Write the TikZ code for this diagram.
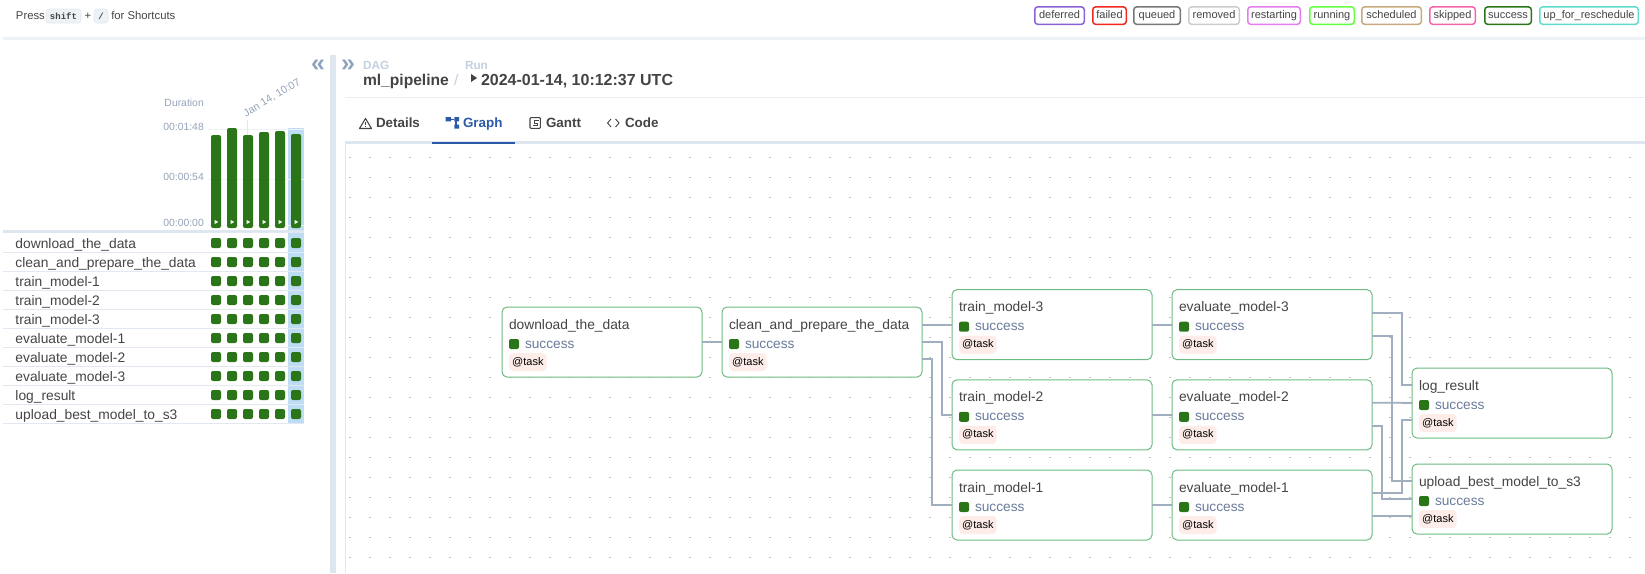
\documentclass[tikz,border=0pt]{standalone}
\usepackage{fontspec}
\setmainfont{Liberation Sans}
\newfontfamily\kbdfont{Liberation Mono}
\definecolor{okgreen}{HTML}{2B7519}
\definecolor{boxgreen}{HTML}{6CBB80}
\definecolor{edgegrey}{HTML}{A0AEC0}
\definecolor{softline}{HTML}{EDF2F7}
\definecolor{rowline}{HTML}{E2E8F0}
\definecolor{paneline}{HTML}{DEE6EF}
\definecolor{inktext}{HTML}{444444}
\definecolor{axistext}{HTML}{94A3B8}
\definecolor{crumbtext}{HTML}{C3D0DF}
\definecolor{chevron}{HTML}{8FA3BD}
\definecolor{statetext}{HTML}{6A7B9B}
\definecolor{chipfill}{HTML}{FDECE7}
\definecolor{hilite}{HTML}{BEDCF4}
\definecolor{tabblue}{HTML}{2B5AA8}
\definecolor{deferredc}{HTML}{8B62D6}
\definecolor{failedc}{HTML}{F0281E}
\definecolor{queuedc}{HTML}{777777}
\definecolor{removedc}{HTML}{CCCCCC}
\definecolor{restartc}{HTML}{E47EEE}
\definecolor{runningc}{HTML}{63FF3F}
\definecolor{schedc}{HTML}{C8A97E}
\definecolor{skippedc}{HTML}{F564A9}
\definecolor{resched}{HTML}{5FDCCB}

\tikzset{
  txt/.style={inner sep=0pt, outer sep=0pt, anchor=base west, text=inktext, font=\fontsize{13.8}{16}\selectfont},
  axis/.style={inner sep=0pt, anchor=base east, text=axistext, font=\fontsize{10.4}{12}\selectfont},
  tab/.style={txt, font=\fontsize{13.4}{16}\selectfont\bfseries},
  crumb/.style={txt, text=crumbtext, font=\fontsize{11.8}{14}\selectfont\bfseries},
  keycap/.style={draw=rowline, line width=0.6pt, fill=softline, rounded corners=3pt, minimum height=14pt, inner sep=0pt, text=inktext,
    font=\kbdfont\fontsize{9}{10}\selectfont\bfseries},
  statebadge/.style={line width=1.5pt, rounded corners=3pt, minimum height=17.5pt, inner sep=0pt, fill=white,
    text=inktext, text height=8pt, text depth=2.4pt, font=\fontsize{11}{13}\selectfont},
  taskbox/.style={draw=boxgreen, line width=1pt, fill=white, rounded corners=5pt, minimum width=200pt,
    minimum height=70pt, outer sep=0pt},
  okcell/.style={fill=okgreen, rounded corners=2pt, minimum size=10pt, inner sep=0pt, outer sep=0pt},
  taskchip/.style={fill=chipfill, rounded corners=4pt, anchor=west, inner xsep=3pt, inner ysep=4pt,
    text=black, text height=8pt, text depth=2pt, font=\fontsize{11}{13}\selectfont},
  edge/.style={draw=edgegrey, line width=1.8pt}
}

\begin{document}
\begin{tikzpicture}[x=1pt, y=-1pt]
  \useasboundingbox (0,0) rectangle (1645,573);

  % draw header
  \node [txt, font=\fontsize{11.3}{14}\selectfont] (press) at (16,19) {Press};
  \node [keycap, minimum width=35pt] (key-shift) at (63.5,16) {shift};
  \node [txt, font=\fontsize{11.3}{14}\selectfont] (plus) at (84.5,19) {+};
  \node [keycap, minimum width=14pt] (key-slash) at (101,16) {/};
  \node [txt, font=\fontsize{11.3}{14}\selectfont] (hint) at (111.3,19) {for Shortcuts};

  \foreach \l/\c/\a/\b [count=\i] in {deferred/deferredc/1034/1085, failed/failedc/1092/1127,
    queued/queuedc/1133/1181, removed/removedc/1188/1240, restarting/restartc/1247/1301,
    running/runningc/1309/1355, scheduled/schedc/1361/1422, skipped/skippedc/1429/1476,
    success/okgreen/1484/1532, up\_for\_reschedule/resched/1539/1639}
    \node [statebadge, draw=\c, minimum width=\b-\a-1.5] (state-\i) at ({(\a+\b)/2},15.6) {\l};
  \draw [softline, line width=2.5pt] (3,38.5) -- (1645,38.5);

  % draw duration chart
  \fill [hilite] (288,128) rectangle (304,423);
  \foreach \y in {129,179,225}
    \draw [softline, line width=1pt] (208,\y) -- (304,\y);
  \node [axis] (duration) at (204,106) {Duration};
  \node [axis] (tick-1) at (204,130.7) {00:01:48};
  \node [axis] (tick-2) at (204,180.3) {00:00:54};
  \node [axis] (tick-3) at (204,226.7) {00:00:00};
  \draw [rowline, line width=0.7pt] (247,120) -- (247,135);
  \node [axis, anchor=center, rotate=31, font=\fontsize{10.6}{12}\selectfont] (rundate) at (272,98) {Jan 14, 10:07};
  \foreach \t [count=\i from 0] in {135,128,135,132,131,134}
  {
    \fill [okgreen, rounded corners=2pt] (211+16*\i,\t) rectangle (221+16*\i,228);
    \fill [white] (214.6+16*\i,220) -- (218.4+16*\i,222) -- (214.6+16*\i,224) -- cycle;
  }

  % draw task rows
  \draw [paneline, line width=3pt] (3,231.7) -- (304,231.7);
  \foreach \l [count=\y] in {download\_the\_data, clean\_and\_prepare\_the\_data, train\_model-1,
    train\_model-2, train\_model-3, evaluate\_model-1, evaluate\_model-2, evaluate\_model-3,
    log\_result, upload\_best\_model\_to\_s3}
  {
    \draw [rowline, line width=1pt] (3,233+19*\y) -- (304,233+19*\y);
    \node [txt] (row-\y) at (15.5,229+19*\y) {\l};
    \foreach \x in {0,...,5}
      \node [okcell] (cell-\y-\x) at (216+16*\x,224+19*\y) {};
  }

  % draw panes
  \fill [paneline] (330,55) rectangle (336,573);
  \node [txt, text=chevron, font=\fontsize{25}{27}\selectfont\bfseries, anchor=center] (hide) at (318,66) {«};
  \node [txt, text=chevron, font=\fontsize{25}{27}\selectfont\bfseries, anchor=center] (show) at (348,66) {»};
  \node [crumb] (dag) at (363,69) {DAG};
  \node [crumb] (run) at (465,69) {Run};
  \node [txt, font=\fontsize{15.6}{18}\selectfont\bfseries] (dagid) at (363,85) {ml\_pipeline};
  \node [txt, text=crumbtext, font=\fontsize{15.6}{18}\selectfont] (slash) at (454,85) {/};
  \fill [inktext] (471,74) -- (477,78) -- (471,82) -- cycle;
  \node [txt, font=\fontsize{16}{18}\selectfont\bfseries] (runid) at (481,85) {2024-01-14, 10:12:37 UTC};
  \draw [softline!70!rowline, line width=1pt] (345,97.3) -- (1645,97.3);

  % draw tabs
  \node [tab] (tab-details) at (376,127.3) {Details};
  \node [tab, text=tabblue] (tab-graph) at (463,127.3) {Graph};
  \node [tab] (tab-gantt) at (546,127.3) {Gantt};
  \node [tab] (tab-code) at (625,127.3) {Code};
  \draw [inktext, line width=1.1pt, line join=round] (365.5,118.5) -- (371.5,128.5) -- (359.5,128.5) -- cycle;
  \draw [inktext, line width=1pt] (365.5,122) -- (365.5,125) (365.5,126) -- (365.5,127);
  \fill [tabblue] (445.7,117) rectangle (451,121.3) (454.3,117) rectangle (459,121.3) (454.3,124.7) rectangle (459,128.7);
  \draw [tabblue, line width=1pt] (451,119) -- (454.3,119);
  \draw [tabblue, line width=2.2pt] (456.2,120) -- (456.2,125);
  \draw [inktext, line width=1.1pt, rounded corners=1pt] (530,117.6) rectangle (540.4,128.4);
  \draw [inktext, line width=1pt] (538.5,120.3) -- (534,120.3) -- (534,123) -- (537.5,123) -- (537.5,125.6) -- (533,125.6);
  \draw [inktext, line width=0.9pt] (611,119) -- (607.5,123) -- (611,127) (615.5,119) -- (619,123) -- (615.5,127);
  \draw [paneline, line width=3pt] (345,142.3) -- (1645,142.3);
  \draw [tabblue, line width=2pt] (432,142.5) -- (515,142.5);
  \draw [rowline, line width=1pt] (345.7,143) -- (345.7,573);

  % draw canvas dots
  \foreach \x in {350,370,...,1630}
    \foreach \y in {157,177,...,557}
      \fill [black!25] (\x-1,\y-0.5) rectangle (\x+1,\y+0.5);

  % draw tasks
  \foreach \m/\l/\x/\y in {download/download\_the\_data/602/342, clean/clean\_and\_prepare\_the\_data/822/342,
    train-3/train\_model-3/1052/324.7, train-2/train\_model-2/1052/414.8, train-1/train\_model-1/1052/505,
    evaluate-3/evaluate\_model-3/1272/324.7, evaluate-2/evaluate\_model-2/1272/414.8, evaluate-1/evaluate\_model-1/1272/505,
    log/log\_result/1512/403, upload/upload\_best\_model\_to\_s3/1512/499}
  {
    \node [taskbox] (\m) at (\x,\y) {};
    \node [txt] (\m-title) at ([shift={(7,22)}]\m.north west) {\l};
    \node [okcell] (\m-cell) at ([shift={(12,37)}]\m.north west) {};
    \node [txt, text=statetext, font=\fontsize{13.7}{16}\selectfont] (\m-state) at ([shift={(23,41)}]\m.north west) {success};
    \node [taskchip] (\m-chip) at ([shift={(7,55)}]\m.north west) {@task};
  }

  % draw edges
  \draw [edge] (download) -- (clean);
  \foreach \i in {1,2,3}
    \draw [edge] (train-\i) -- (evaluate-\i);
  \draw [edge] (train-3.west) -- ++(-30,0);
  \draw [edge] (clean) -- ++(120,0) |- (train-2);
  \draw [edge] ([yshift=-17pt]clean.east) -- ++(10,0) |- (train-1);
  \foreach \a/\s/\d/\b/\t in {evaluate-3/12/30/log/18, evaluate-3/-11/20/upload/18, evaluate-2/-11/10/upload/0, evaluate-1/12/30/log/-17}
    \draw [edge] ([yshift=\s pt]\a.east) -- ++(\d,0) |- ([yshift=\t pt]\b.west);
  \draw [edge] ([yshift=12pt]evaluate-2.east) -- (log);
  \draw [edge] ([yshift=-11pt]evaluate-1.east) -- ([yshift=-17pt]upload.west);
\end{tikzpicture}
\end{document}
